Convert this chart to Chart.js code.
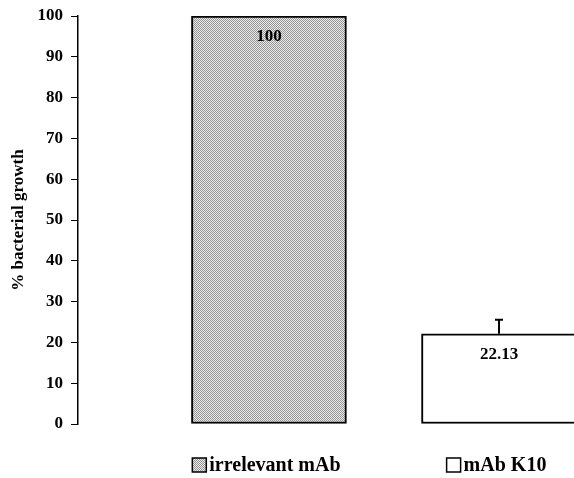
<!DOCTYPE html>
<html>
<head>
<meta charset="utf-8">
<script src="https://cdn.jsdelivr.net/npm/chart.js@4/dist/chart.umd.min.js"></script>
<style>
  html, body { margin: 0; padding: 0; background: #fff; overflow: hidden; }
  #wrap { width: 574px; height: 478px; }
</style>
</head>
<body>
<div id="wrap"><canvas id="growth-chart"></canvas></div>
<script>
// values
var categories = ['irrelevant mAb', 'mAb K10'];
var growth = [100, 22.13];
var growthErr = [0, 3.4];
var yMin = 0, yMax = 100, yStep = 10;

var serif = '"Liberation Serif", "Times New Roman", serif';

// grey stipple like the old excel fill
function stipple() {
    var c = document.createElement('canvas');
    c.width = 2; c.height = 2;
    var g = c.getContext('2d');
    g.fillStyle = '#ececec'; g.fillRect(0, 0, 2, 2);
    g.fillStyle = '#939393'; g.fillRect(0, 0, 1, 1); g.fillRect(1, 1, 1, 1);
    return g.createPattern(c, 'repeat');
}
var fills = [stipple(), '#ffffff'];

var barExtras = {
    id: 'barExtras',
    afterDatasetsDraw: function (chart) {
        var ctx = chart.ctx;
        var y = chart.scales.y;
        var bars = chart.getDatasetMeta(0).data;
        ctx.save();
        ctx.strokeStyle = '#000';
        ctx.lineWidth = 2;
        bars.forEach(function (bar, i) {
            if (!growthErr[i]) return;
            var top = y.getPixelForValue(growth[i] + growthErr[i]);
            ctx.beginPath();
            ctx.moveTo(bar.x, bar.y);
            ctx.lineTo(bar.x, top);
            ctx.moveTo(bar.x - 4, top);
            ctx.lineTo(bar.x + 4, top);
            ctx.stroke();
        });
        ctx.font = 'bold 17px ' + serif;
        ctx.fillStyle = '#000';
        ctx.textAlign = 'center';
        ctx.textBaseline = 'middle';
        bars.forEach(function (bar, i) {
            ctx.fillText(String(growth[i]), bar.x, bar.y + 21);
        });
        ctx.restore();
    }
};

// little legend boxes in front of the category labels
var swatches = {
    id: 'swatches',
    afterDraw: function (chart) {
        var x = chart.scales.x;
        var ctx = chart.ctx;
        var t = x.options.ticks;
        ctx.save();
        ctx.font = 'bold 20px ' + serif;
        x.ticks.forEach(function (tick, i) {
            var w = ctx.measureText(categories[i]).width;
            var left = x.getPixelForTick(i) + t.labelOffset - w / 2 - 17;
            var top = x.top + t.padding + 4;
            ctx.fillStyle = fills[i];
            ctx.fillRect(left, top, 14, 14);
            ctx.strokeStyle = '#000';
            ctx.lineWidth = 1.5;
            ctx.strokeRect(left, top, 14, 14);
        });
        ctx.restore();
    }
};

var ctx = document.getElementById('growth-chart').getContext('2d');
var chart = new Chart(ctx, {
    type: 'bar',
    data: {
        labels: categories,
        datasets: [{
            data: growth.map(function (v, i) { return { x: i + 1, y: v }; }),
            backgroundColor: fills,
            borderColor: '#000',
            borderWidth: 2,
            borderSkipped: false,
            barThickness: 155,
            clip: 0
        }]
    },
    options: {
        responsive: true,
        maintainAspectRatio: false,
        animation: false,
        layout: { padding: { top: 16, right: 0, bottom: 0, left: 0 } },
        plugins: {
            legend: { display: false },
            tooltip: { enabled: false }
        },
        scales: {
            x: {
                type: 'linear',
                min: 0.17,
                max: 2.326,
                offset: false,
                afterBuildTicks: function (s) {
                    s.ticks = categories.map(function (c, i) { return { value: i + 1 }; });
                },
                afterFit: function (s) { s.height = 54; },
                ticks: {
                    callback: function (v, i) { return categories[i]; },
                    padding: 30,
                    labelOffset: 6,
                    maxRotation: 0,
                    autoSkip: false,
                    color: '#000',
                    font: { family: serif, size: 20, weight: 'bold' }
                },
                grid: { display: false, drawTicks: false },
                border: { display: false }
            },
            y: {
                min: yMin,
                max: yMax,
                afterFit: function (s) { s.width = 78; },
                ticks: {
                    stepSize: yStep,
                    padding: 8,
                    color: '#000',
                    font: { family: serif, size: 17, weight: 'bold', lineHeight: 0.9 }
                },
                grid: { drawOnChartArea: false, color: '#000', tickLength: 7 },
                border: { color: '#000', width: 1.5 },
                title: {
                    display: true,
                    text: '% bacterial growth',
                    color: '#000',
                    padding: { top: 8, bottom: 0 },
                    font: { family: serif, size: 17, weight: 'bold' }
                }
            }
        }
    },
    plugins: [barExtras, swatches]
});
</script>
</body>
</html>
